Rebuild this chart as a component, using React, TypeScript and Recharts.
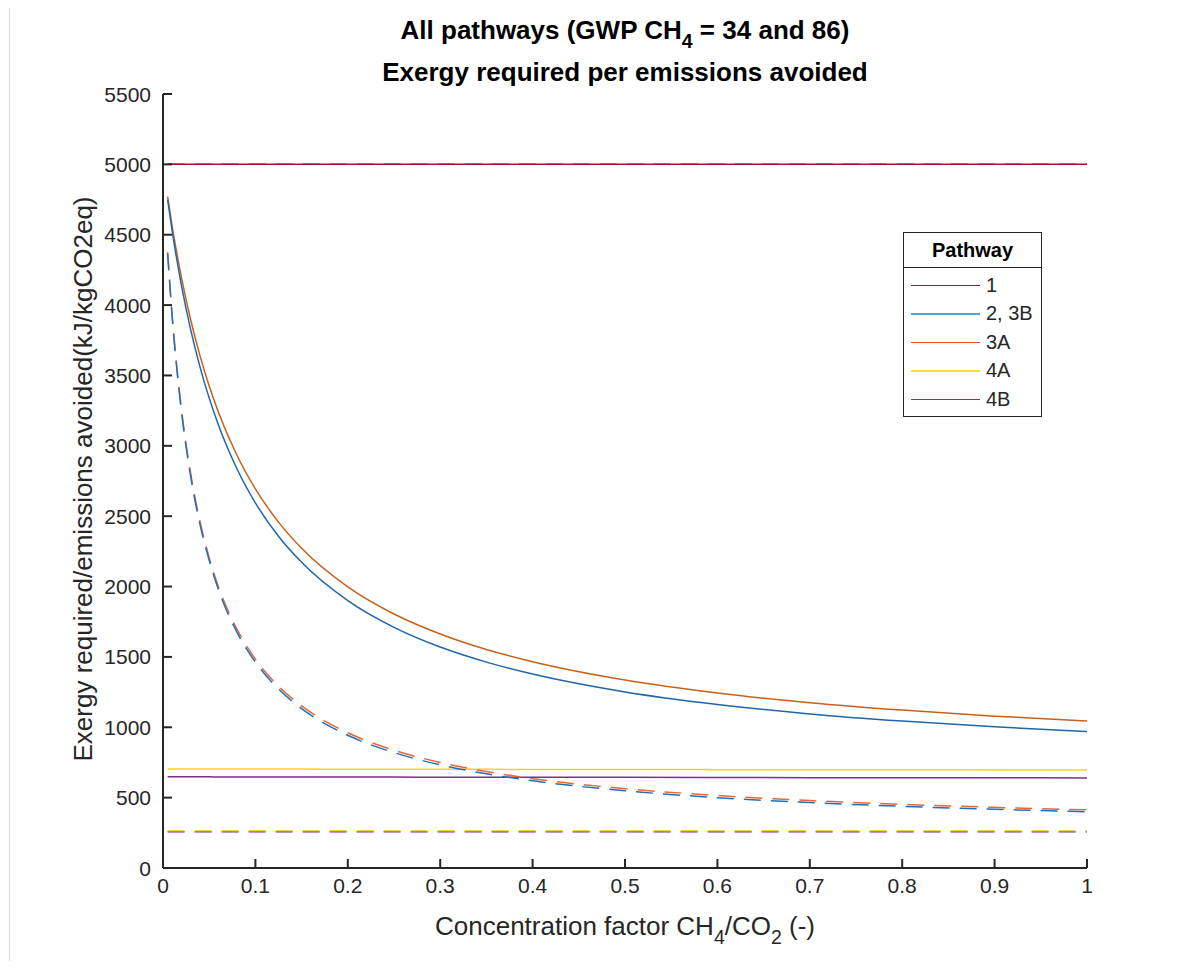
import { LineChart, Line, XAxis, YAxis } from "recharts";

// concentration factor CH4/CO2 sampled along the curves
const xValues = [0.005, 0.01, 0.02, 0.03, 0.04, 0.05, 0.06, 0.08, 0.1, 0.125, 0.15, 0.2, 0.25, 0.3, 0.35, 0.4, 0.5, 0.6, 0.7, 0.8, 0.9, 1.0];

// solid lines (GWP CH4 = 34)
const p1Solid = [5000, 5000, 5000, 5000, 5000, 5000, 5000, 5000, 5000, 5000, 5000, 5000, 5000, 5000, 5000, 5000, 5000, 5000, 5000, 5000, 5000, 5000];
const p2Solid = [4749, 4523, 4139, 3824, 3561, 3339, 3148, 2837, 2594, 2357, 2172, 1900, 1710, 1570, 1463, 1378, 1251, 1162, 1095, 1044, 1003, 970];
const p3ASolid = [4770, 4558, 4195, 3894, 3641, 3425, 3239, 2933, 2694, 2458, 2272, 1998, 1805, 1663, 1553, 1466, 1336, 1244, 1175, 1122, 1079, 1045];
const p4ASolid = [704, 704, 704, 704, 704, 704, 703, 703, 703, 703, 703, 702, 702, 701, 701, 700, 700, 699, 698, 698, 697, 696];
const p4BSolid = [648, 648, 648, 648, 648, 648, 647, 647, 647, 647, 647, 646, 646, 645, 645, 644, 644, 643, 642, 642, 641, 640];

// dashed lines (GWP CH4 = 86)
const p1Dashed = [5000, 5000, 5000, 5000, 5000, 5000, 5000, 5000, 5000, 5000, 5000, 5000, 5000, 5000, 5000, 5000, 5000, 5000, 5000, 5000, 5000, 5000];
const p2Dashed = [4368, 3909, 3242, 2780, 2442, 2186, 1978, 1676, 1463, 1272, 1133, 943, 820, 733, 669, 620, 549, 500, 465, 438, 417, 400];
const p3ADashed = [4375, 3922, 3261, 2802, 2464, 2205, 1999, 1698, 1484, 1292, 1152, 961, 837, 750, 685, 635, 564, 515, 479, 452, 431, 413];
const p4ADashed = [265, 265, 265, 265, 265, 265, 265, 265, 265, 265, 265, 265, 265, 265, 265, 265, 265, 265, 265, 265, 265, 265];
const p4BDashed = [257, 257, 257, 257, 257, 257, 257, 257, 257, 257, 257, 257, 257, 257, 257, 257, 257, 257, 257, 257, 257, 257];

const xTicks = [0, 0.1, 0.2, 0.3, 0.4, 0.5, 0.6, 0.7, 0.8, 0.9, 1];
const yTicks = [0, 500, 1000, 1500, 2000, 2500, 3000, 3500, 4000, 4500, 5000, 5500];

const legendItems = [
  { label: "1", color: "#A2142F" },
  { label: "2, 3B", color: "#4DA3DB" },
  { label: "3A", color: "#E8501E" },
  { label: "4A", color: "#F5DC3C" },
  { label: "4B", color: "#7E2F8E" },
];

const FONT = "'Liberation Sans', Arial, sans-serif";
const AXIS = "#262626";

const rows = xValues.map((x, i) => ({
  x,
  p1s: p1Solid[i],
  p2s: p2Solid[i],
  p3as: p3ASolid[i],
  p4as: p4ASolid[i],
  p4bs: p4BSolid[i],
  p1d: p1Dashed[i],
  p2d: p2Dashed[i],
  p3ad: p3ADashed[i],
  p4ad: p4ADashed[i],
  p4bd: p4BDashed[i],
}));

const YTick = ({ x, y, payload }: any) => (
  <g>
    <line x1={x + 12} x2={x + 21} y1={y} y2={y} stroke={AXIS} strokeWidth={2} />
    <text x={x} y={y} textAnchor="end" dominantBaseline="central" fontSize={21} fill={AXIS} fontFamily={FONT}>
      {payload.value}
    </text>
  </g>
);

const XTick = ({ x, y, payload }: any) => (
  <g>
    <line x1={x} x2={x} y1={y - 9} y2={y - 18} stroke={AXIS} strokeWidth={2} />
    <text x={x} y={y + 1} textAnchor="middle" dominantBaseline="hanging" fontSize={21} fill={AXIS} fontFamily={FONT}>
      {payload.value}
    </text>
  </g>
);

const sub = { fontSize: "0.75em", verticalAlign: "-0.45em" } as const;

export default function App() {
  const dash = "17 10";
  return (
    <div style={{ position: "relative", width: 1193, height: 969, margin: -8, background: "#fff", fontFamily: FONT, overflow: "hidden" }}>
      <div style={{ position: "absolute", left: 9, top: 7, right: 0, bottom: 0, borderLeft: "1px solid #dcdcdc", borderTop: "1px solid #dcdcdc" }} />
      <LineChart width={1193} height={969} data={rows} margin={{ top: 94, right: 106, bottom: 61, left: 103 }}>
        <XAxis
          type="number"
          dataKey="x"
          domain={[0, 1]}
          ticks={xTicks}
          tickLine={false}
          tickSize={0}
          tickMargin={9}
          height={40}
          stroke={AXIS}
          strokeWidth={2}
          tick={<XTick />}
        />
        <YAxis
          type="number"
          domain={[0, 5500]}
          ticks={yTicks}
          tickLine={false}
          tickSize={0}
          tickMargin={12}
          width={60}
          stroke={AXIS}
          strokeWidth={2}
          tick={<YTick />}
        />
        <Line dataKey="p1d" stroke="#9A2A55" strokeWidth={1.5} strokeDasharray={dash} dot={false} type="monotone" isAnimationActive={false} />
        <Line dataKey="p1s" stroke="#A2142F" strokeWidth={1.5} dot={false} type="monotone" isAnimationActive={false} />
        <Line dataKey="p4bd" stroke="#7E2F8E" strokeWidth={1.5} strokeDasharray={dash} dot={false} type="monotone" isAnimationActive={false} />
        <Line dataKey="p4ad" stroke="#F2D34A" strokeWidth={1.5} strokeDasharray={dash} dot={false} type="monotone" isAnimationActive={false} />
        <Line dataKey="p4as" stroke="#FFD21A" strokeWidth={1.5} dot={false} type="monotone" isAnimationActive={false} />
        <Line dataKey="p4bs" stroke="#7E2F8E" strokeWidth={1.5} dot={false} type="monotone" isAnimationActive={false} />
        <Line dataKey="p3ad" stroke="#E5673A" strokeWidth={1.5} strokeDasharray={dash} dot={false} type="monotone" isAnimationActive={false} />
        <Line dataKey="p2d" stroke="#1F6FBF" strokeWidth={1.5} strokeDasharray={dash} dot={false} type="monotone" isAnimationActive={false} />
        <Line dataKey="p3as" stroke="#C8601C" strokeWidth={1.5} dot={false} type="monotone" isAnimationActive={false} />
        <Line dataKey="p2s" stroke="#1F66AA" strokeWidth={1.5} dot={false} type="monotone" isAnimationActive={false} />
      </LineChart>

      <div style={{ position: "absolute", left: 0, width: 1250, top: 15, textAlign: "center", fontWeight: "bold", fontSize: 26, color: "#000", whiteSpace: "nowrap" }}>
        All pathways (GWP CH<span style={sub}>4</span> = 34 and 86)
      </div>
      <div style={{ position: "absolute", left: 0, width: 1250, top: 57, textAlign: "center", fontWeight: "bold", fontSize: 26, color: "#000", whiteSpace: "nowrap" }}>
        Exergy required per emissions avoided
      </div>

      <div style={{ position: "absolute", left: 83, top: 479, transform: "translate(-50%, -50%) rotate(-90deg)", fontSize: 26, color: AXIS, whiteSpace: "nowrap" }}>
        Exergy required/emissions avoided(kJ/kgCO2eq)
      </div>
      <div style={{ position: "absolute", left: 0, width: 1250, top: 911, textAlign: "center", fontSize: 26, color: AXIS, whiteSpace: "nowrap" }}>
        Concentration factor CH<span style={sub}>4</span>/CO<span style={sub}>2</span> (-)
      </div>

      <div style={{ position: "absolute", left: 903, top: 232, width: 137, height: 183, border: "1px solid #262626", background: "#fff" }}>
        <div style={{ height: 34, borderBottom: "1px solid #262626", display: "flex", alignItems: "center", justifyContent: "center", fontWeight: "bold", fontSize: 20, color: "#000" }}>
          Pathway
        </div>
        {legendItems.map((item, i) => (
          <div key={item.label} style={{ position: "absolute", left: 0, top: 52 + i * 28.5 - 12, height: 24, display: "flex", alignItems: "center" }}>
            <div style={{ marginLeft: 7, width: 69, height: 0, borderTop: `${i === 1 || i === 3 ? 2 : 1}px solid ${item.color}` }} />
            <span style={{ marginLeft: 6, fontSize: 20, color: AXIS }}>{item.label}</span>
          </div>
        ))}
      </div>
    </div>
  );
}
